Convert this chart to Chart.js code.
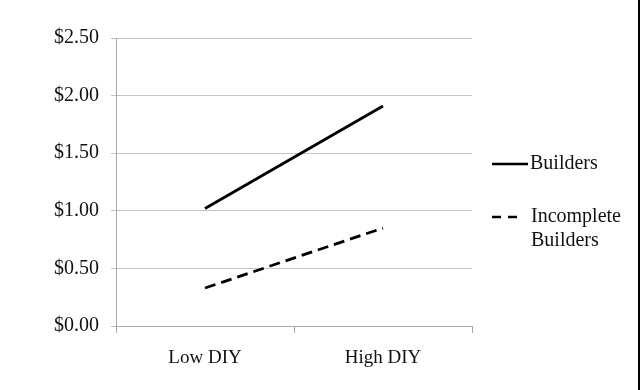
<!DOCTYPE html>
<html>
<head>
<meta charset="utf-8">
<script src="https://cdn.jsdelivr.net/npm/chart.js@4/dist/chart.umd.min.js"></script>
<style>
  html, body { margin: 0; padding: 0; background: #fff; }
  #wrap { width: 638px; height: 390px; border-right: 2px solid #000; position: relative; }
</style>
</head>
<body>
<div id="wrap"><canvas id="chart" width="638" height="390"></canvas></div>
<script>
        // Data
        const categories = ['Low DIY', 'High DIY'];
        const builders = [1.02, 1.91];
        const incompleteBuilders = [0.33, 0.85];
        const yTicks = [0, 0.5, 1, 1.5, 2, 2.5];

        const fontFamily = '"Liberation Serif", "Times New Roman", serif';
        const textColor = '#111';

        // Legend on the right, drawn by hand like the original
        const sideLegend = {
            id: 'sideLegend',
            afterDraw(chart) {
                const ctx = chart.ctx;
                ctx.save();
                ctx.font = '20px ' + fontFamily;
                ctx.fillStyle = textColor;
                ctx.textBaseline = 'middle';
                ctx.strokeStyle = '#000';
                ctx.lineWidth = 2.5;

                // Builders (solid)
                ctx.beginPath();
                ctx.moveTo(492, 164);
                ctx.lineTo(528, 164);
                ctx.stroke();
                ctx.fillText('Builders', 530, 164);

                // Incomplete Builders (dashed)
                ctx.setLineDash([9, 7]);
                ctx.beginPath();
                ctx.moveTo(492, 217);
                ctx.lineTo(519, 217);
                ctx.stroke();
                ctx.setLineDash([]);
                ctx.fillText('Incomplete', 531, 217);
                ctx.fillText('Builders', 531, 241);
                ctx.restore();
            }
        };

        const ctx = document.getElementById('chart').getContext('2d');
        new Chart(ctx, {
            type: 'line',
            data: {
                labels: categories,
                datasets: [{
                    label: 'Builders',
                    data: builders,
                    borderColor: '#000',
                    borderWidth: 2.8,
                    pointRadius: 0,
                    tension: 0
                }, {
                    label: 'Incomplete Builders',
                    data: incompleteBuilders,
                    borderColor: '#000',
                    borderWidth: 2.8,
                    borderDash: [11, 6],
                    pointRadius: 0,
                    tension: 0
                }]
            },
            options: {
                responsive: false,
                animation: false,
                layout: { padding: { top: 38, right: 166, left: 0, bottom: 0 } },
                scales: {
                    x: {
                        offset: true,
                        grid: { offset: true, drawOnChartArea: false, tickLength: 7, color: '#a8a8a8' },
                        border: { color: '#a8a8a8', width: 1 },
                        ticks: { color: textColor, font: { family: fontFamily, size: 19 }, padding: 14 },
                        afterFit: s => { s.height = 64; }
                    },
                    y: {
                        min: 0,
                        max: 2.5,
                        afterBuildTicks: s => { s.ticks = yTicks.map(v => ({ value: v })); },
                        grid: { color: '#c4c4c4', tickLength: 5 },
                        border: { color: '#a8a8a8', width: 1 },
                        ticks: {
                            color: textColor,
                            font: { family: fontFamily, size: 20 },
                            padding: 12,
                            callback: v => '$' + Number(v).toFixed(2)
                        },
                        afterFit: s => { s.width = 116; }
                    }
                },
                plugins: {
                    legend: { display: false },
                    tooltip: { enabled: false }
                }
            },
            plugins: [sideLegend]
        });
</script>
</body>
</html>
